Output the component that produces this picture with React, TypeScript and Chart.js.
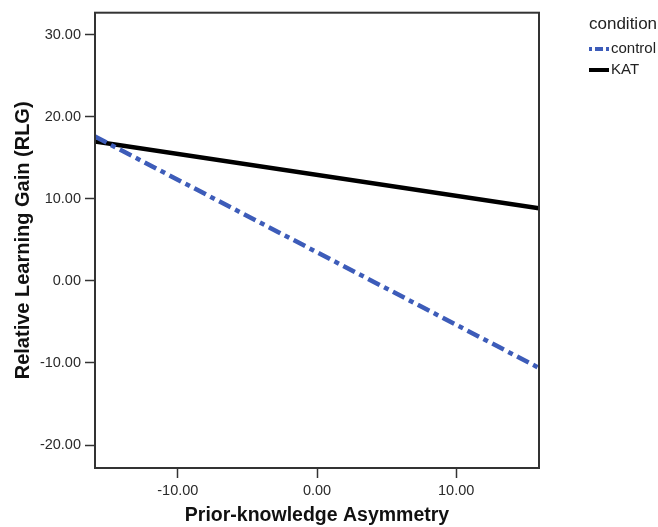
import React, { useEffect, useRef } from "react";
import { Chart, registerables } from "chart.js";

Chart.register(...registerables);

// ---- data ----
const xEnds = [-15.95, 15.95];
const controlValues = [17.6, -10.6];
const katValues = [17.0, 8.85];
const seriesNames = ["control", "KAT"];
const seriesColors = ["#3d5cb9", "#000000"];
const xTicks = [-10, 0, 10];
const yTicks = [-20, -10, 0, 10, 20, 30];
const xLimits = [-15.95, 15.95];
const yLimits = [-22.8, 32.7];
const legendTitle = "condition";
const xTitle = "Prior-knowledge Asymmetry";
const yTitle = "Relative Learning Gain (RLG)";

const FONT = "'Liberation Sans', Arial, sans-serif";
const CONTROL_DASH = [13, 5, 5, 5];
const LEGEND_CONTROL_DASH = [3, 3, 8, 3, 3, 100];

const framePlugin = {
  id: "frame",
  afterDatasetsDraw(chart: any) {
    const { ctx, chartArea } = chart;
    ctx.save();
    ctx.strokeStyle = "#333";
    ctx.lineWidth = 2;
    ctx.strokeRect(chartArea.left, chartArea.top, chartArea.right - chartArea.left, chartArea.bottom - chartArea.top);
    ctx.restore();
  },
};

const legendPlugin = {
  id: "customLegend",
  afterDraw(chart: any) {
    const { ctx } = chart;
    ctx.save();
    ctx.textBaseline = "middle";
    ctx.textAlign = "left";
    ctx.fillStyle = "#222";
    ctx.font = `17px ${FONT}`;
    ctx.fillText(legendTitle, 589, 24);
    const ys = [49, 70];
    chart.data.datasets.forEach((ds: any, i: number) => {
      const y = ys[i];
      ctx.beginPath();
      ctx.strokeStyle = ds.borderColor;
      ctx.lineWidth = 4;
      ctx.lineCap = "butt";
      ctx.setLineDash(ds.borderDash ? LEGEND_CONTROL_DASH : []);
      ctx.moveTo(589, y);
      ctx.lineTo(609, y);
      ctx.stroke();
      ctx.setLineDash([]);
      ctx.fillStyle = "#222";
      ctx.font = `15px ${FONT}`;
      ctx.fillText(ds.label, 611, y);
    });
    ctx.restore();
  },
};

export default function App() {
  const ref = useRef<HTMLCanvasElement | null>(null);

  useEffect(() => {
    if (!ref.current) return;
    const mk = (vals: number[]) => xEnds.map((x, i) => ({ x, y: vals[i] }));
    const chart = new Chart(ref.current, {
      type: "scatter",
      data: {
        datasets: [
          {
            label: seriesNames[0],
            data: mk(controlValues),
            showLine: true,
            borderColor: seriesColors[0],
            backgroundColor: seriesColors[0],
            borderWidth: 4.5,
            borderDash: CONTROL_DASH,
            pointRadius: 0,
          },
          {
            label: seriesNames[1],
            data: mk(katValues),
            showLine: true,
            borderColor: seriesColors[1],
            backgroundColor: seriesColors[1],
            borderWidth: 4.5,
            pointRadius: 0,
          },
        ],
      } as any,
      options: {
        animation: false,
        responsive: false,
        maintainAspectRatio: false,
        layout: { padding: { left: 0, top: 10, right: 119, bottom: 0 } },
        plugins: {
          legend: { display: false },
          tooltip: { enabled: false },
        },
        scales: {
          x: {
            type: "linear",
            min: xLimits[0],
            max: xLimits[1],
            afterBuildTicks: (s: any) => {
              s.ticks = xTicks.map((v) => ({ value: v }));
            },
            afterFit: (s: any) => {
              s.height = 59;
            },
            grid: {
              display: true,
              drawOnChartArea: false,
              drawTicks: true,
              tickLength: 10,
              tickColor: "#333",
              tickWidth: 1.5,
            },
            border: { display: false },
            ticks: {
              autoSkip: false,
              maxRotation: 0,
              padding: 4,
              color: "#2a2a2a",
              font: { family: FONT, size: 14.5 },
              callback: (v: any) => Number(v).toFixed(2),
            },
            title: {
              display: true,
              text: xTitle,
              color: "#111",
              font: { family: FONT, size: 19.5, weight: "bold" },
              padding: { top: 0, bottom: 0 },
            },
          },
          y: {
            type: "linear",
            min: yLimits[0],
            max: yLimits[1],
            afterBuildTicks: (s: any) => {
              s.ticks = yTicks.map((v) => ({ value: v }));
            },
            afterFit: (s: any) => {
              s.width = 95;
            },
            grid: {
              display: true,
              drawOnChartArea: false,
              drawTicks: true,
              tickLength: 10,
              tickColor: "#333",
              tickWidth: 1.5,
            },
            border: { display: false },
            ticks: {
              autoSkip: false,
              padding: 4,
              color: "#2a2a2a",
              font: { family: FONT, size: 14.5 },
              callback: (v: any) => Number(v).toFixed(2),
            },
            title: {
              display: true,
              text: yTitle,
              color: "#111",
              font: { family: FONT, size: 20, weight: "bold" },
              padding: { top: 11, bottom: 0 },
            },
          },
        },
      } as any,
      plugins: [framePlugin, legendPlugin],
    });
    return () => chart.destroy();
  }, []);

  return (
    <div style={{ position: "absolute", left: 0, top: 0, width: 658, height: 527, background: "#fff" }}>
      <canvas ref={ref} width={658} height={527} style={{ width: 658, height: 527, display: "block" }} />
    </div>
  );
}
